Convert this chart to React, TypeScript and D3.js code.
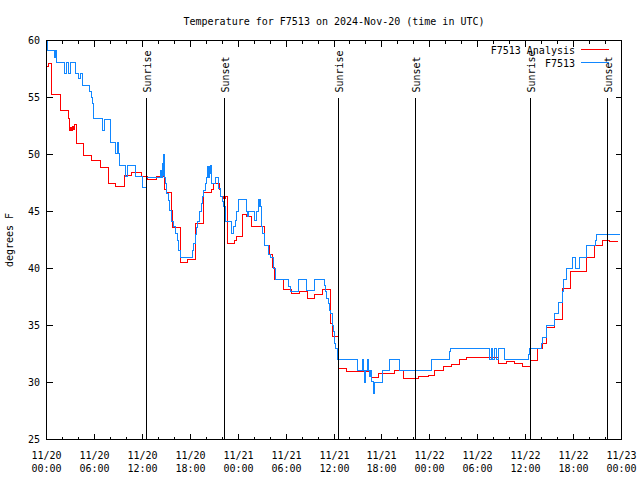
import React from "react";
import * as d3 from "d3";

const TITLE = "Temperature for F7513 on 2024-Nov-20 (time in UTC)";
const Y_LABEL = "degrees F";
const SERIES_NAMES = ["F7513 Analysis", "F7513"];
const START_UTC = Date.UTC(2024, 10, 20);
const END_HOURS = 72;
const Y_TICKS = [25, 30, 35, 40, 45, 50, 55, 60];
const SUNRISE_HOURS = [12.52, 36.54, 60.57];
const SUNSET_HOURS = [22.27, 46.18, 70.21];

// [hours since 2024-11-20 00:00 UTC, degrees F]
const analysisPoints: [number, number][] = [
  [0, 57.7], [0.3, 58.0], [0.65, 55.3], [1.7, 53.9], [2.75, 53.2], [2.85, 52.1], [3.0, 52.4], [3.1, 52.1],
  [3.25, 52.5], [3.4, 52.2], [3.5, 52.6], [3.7, 51.0], [4.62, 49.95], [5.65, 49.5], [6.75, 48.9], [7.72, 48.3],
  [7.8, 47.5], [8.6, 47.2], [9.75, 48.2], [10.7, 48.45], [11.95, 48.1], [12.6, 47.8], [13.72, 48.05], [14.8, 46.9],
  [15.05, 46.7], [15.7, 45.1], [15.83, 43.6], [16.75, 40.5], [17.7, 40.8], [18.62, 43.96], [19.67, 46.7], [20.7, 46.9],
  [20.9, 47.5], [21.6, 46.9], [21.75, 46.3], [22.2, 46.1], [22.45, 46.3], [22.68, 42.15], [23.6, 42.5], [23.85, 42.8],
  [24.6, 44.7], [25.0, 44.6], [25.7, 43.7], [27.35, 42.06], [27.9, 41.2], [28.3, 40.1], [28.6, 39.06], [29.67, 38.18],
  [30.71, 37.78], [31.67, 37.98], [32.67, 37.4], [33.62, 37.69], [34.58, 38.13], [35.58, 35.2], [35.75, 34.04], [36.6, 31.27],
  [37.6, 31.0], [40.5, 30.7], [40.7, 30.4], [41.55, 30.8], [43.62, 31.04], [44.67, 30.34], [46.62, 30.5], [47.79, 30.6],
  [48.62, 31.04], [49.67, 31.4], [50.7, 31.56], [51.67, 32.0], [52.58, 32.15], [56.54, 31.7], [57.62, 31.85], [58.62, 31.7],
  [59.62, 31.4], [60.55, 31.9], [61.54, 33.02], [62.08, 33.4], [62.58, 34.86], [63.62, 35.5], [64.56, 38.27], [65.58, 39.73],
  [67.58, 40.98], [68.56, 41.98], [69.58, 42.44], [70.5, 42.35], [71.6, 42.35],
];

const observedPoints: [number, number][] = [
  [0, 60.0], [0.15, 59.13], [1.0, 58.5], [1.1, 59.1], [1.2, 58.1], [2.3, 57.1], [2.55, 58.1], [2.8, 57.1],
  [2.95, 58.1], [3.6, 57.1], [4.05, 56.65], [4.2, 57.1], [4.5, 56.06], [5.4, 55.5], [5.6, 55.0], [5.75, 54.5],
  [5.9, 53.15], [7.05, 52.1], [7.2, 53.1], [8.0, 51.05], [8.7, 50.1], [8.85, 51.05], [9.05, 50.05], [9.2, 49.0],
  [9.9, 48.1], [10.1, 49.0], [11.1, 48.05], [11.98, 47.1], [12.5, 48.0], [14.25, 48.6], [14.35, 48.0], [14.5, 49.2],
  [14.6, 48.2], [14.7, 50.0], [14.8, 48.0], [14.85, 47.46], [15.05, 46.6], [15.25, 46.0], [15.4, 45.1], [15.6, 44.1],
  [15.85, 43.67], [16.1, 43.08], [16.35, 42.5], [16.55, 41.6], [16.75, 40.98], [18.3, 41.6], [18.45, 42.2], [18.6, 43.0],
  [18.75, 43.6], [18.95, 44.1], [19.15, 44.98], [19.35, 45.71], [19.5, 46.3], [19.65, 46.88], [19.85, 47.46], [20.0, 48.0],
  [20.2, 48.98], [20.3, 48.0], [20.4, 48.98], [20.5, 48.3], [20.55, 49.0], [20.65, 48.0], [20.7, 47.5], [21.1, 48.0],
  [21.55, 47.02], [21.8, 46.3], [22.0, 45.85], [22.2, 45.4], [22.4, 44.1], [23.2, 43.08], [23.45, 43.67], [23.65, 44.25],
  [23.85, 44.98], [24.05, 46.06], [25.0, 44.98], [25.15, 44.6], [25.3, 44.98], [26.1, 44.25], [26.3, 44.98], [26.5, 46.06],
  [26.6, 45.4], [26.7, 46.06], [26.8, 45.42], [26.95, 43.7], [27.1, 43.1], [27.3, 42.06], [27.75, 41.19], [28.0, 40.98],
  [28.4, 40.02], [28.62, 39.0], [30.3, 38.42], [30.5, 37.98], [31.54, 39.0], [32.58, 38.1], [33.62, 39.0], [34.75, 38.5],
  [34.9, 37.98], [35.1, 37.4], [35.3, 36.9], [35.45, 36.3], [35.6, 36.08], [35.75, 35.0], [35.9, 34.5], [36.1, 33.46],
  [36.25, 33.02], [36.4, 32.0], [38.92, 31.08], [39.55, 32.0], [39.65, 31.08], [39.8, 30.0], [39.95, 31.08], [40.2, 32.0],
  [40.3, 31.08], [40.5, 30.5], [40.6, 31.08], [40.7, 30.1], [41.0, 29.0], [41.1, 30.0], [42.05, 31.04], [42.92, 32.0],
  [44.25, 31.04], [48.2, 32.0], [50.5, 32.73], [50.6, 33.02], [55.5, 32.0], [55.7, 33.02], [55.9, 32.0], [56.1, 33.02],
  [56.3, 32.0], [56.55, 33.02], [57.37, 32.0], [60.3, 32.5], [60.45, 33.02], [61.96, 33.46], [62.15, 33.98], [62.67, 35.0],
  [63.55, 35.5], [63.65, 36.08], [64.17, 37.02], [64.55, 38.0], [64.7, 39.0], [65.08, 40.02], [65.83, 40.98], [66.3, 40.0],
  [66.7, 40.98], [67.58, 42.0], [68.7, 42.5], [68.83, 43.0], [71.75, 43.0],
];

const COLORS = ["#ff0000", "#1187ff"];
const FONT = "'DejaVu Sans Mono', 'Liberation Mono', monospace";

const toDate = (h: number) => new Date(START_UTC + h * 3600000);

export default function App() {
  const W = 640, H = 480;
  const L = 46.5, R = 621.5, T = 40.5, B = 439.5;
  const x = d3.scaleUtc().domain([toDate(0), toDate(END_HOURS)]).range([L, R]);
  const y = d3.scaleLinear().domain([25, 60]).range([B, T]);
  const majorTicks = x.ticks(d3.utcHour.every(6)!);
  const minorTicks = x.ticks(d3.utcHour.every(2)!);
  const fmtDate = d3.utcFormat("%m/%d");
  const fmtTime = d3.utcFormat("%H:%M");
  const line = d3
    .line<[number, number]>()
    .x((d) => x(toDate(d[0])))
    .y((d) => y(d[1]))
    .curve(d3.curveStepAfter);
  const snap = (v: number) => Math.round(v - 0.5) + 0.5;
  const events = [
    ...SUNRISE_HOURS.map((h) => ({ h, label: "Sunrise" })),
    ...SUNSET_HOURS.map((h) => ({ h, label: "Sunset" })),
  ];
  const series = [analysisPoints, observedPoints];
  return (
    <svg width={W} height={H} style={{ display: "block", position: "absolute", left: 0, top: 0, background: "#fff" }} fontFamily={FONT} fontSize={10}>
      <rect x={0} y={0} width={W} height={H} fill="#fff" />
      <text x={(L + R) / 2} y={24.5} textAnchor="middle" fill="#000">{TITLE}</text>
      <text transform={`translate(13,240) rotate(-90)`} textAnchor="middle" fill="#000">{Y_LABEL}</text>
      {/* y ticks */}
      {Y_TICKS.map((v) => {
        const yy = snap(y(v));
        return (
          <g key={"y" + v}>
            <line x1={L} x2={L + 6} y1={yy} y2={yy} stroke="#000" shapeRendering="crispEdges" />
            <line x1={R} x2={R - 6} y1={yy} y2={yy} stroke="#000" shapeRendering="crispEdges" />
            <text x={40} y={yy + 3.5} textAnchor="end" fill="#000">{v}</text>
          </g>
        );
      })}
      {/* x ticks */}
      {minorTicks.map((d, i) => {
        const xx = snap(x(d));
        return (
          <g key={"m" + i}>
            <line x1={xx} x2={xx} y1={B} y2={B - 3} stroke="#000" shapeRendering="crispEdges" />
            <line x1={xx} x2={xx} y1={T} y2={T + 3} stroke="#000" shapeRendering="crispEdges" />
          </g>
        );
      })}
      {majorTicks.map((d, i) => {
        const xx = snap(x(d));
        return (
          <g key={"M" + i}>
            <line x1={xx} x2={xx} y1={B} y2={B - 6} stroke="#000" shapeRendering="crispEdges" />
            <line x1={xx} x2={xx} y1={T} y2={T + 6} stroke="#000" shapeRendering="crispEdges" />
            <text x={xx} y={459} textAnchor="middle" fill="#000">{fmtDate(d)}</text>
            <text x={xx} y={471.5} textAnchor="middle" fill="#000">{fmtTime(d)}</text>
          </g>
        );
      })}
      {/* data */}
      {series.map((pts, i) => (
        <path key={"s" + i} d={line(pts) || ""} fill="none" stroke={COLORS[i]} strokeWidth={1} shapeRendering="crispEdges" />
      ))}
      {/* sunrise / sunset markers */}
      {events.map((e, i) => {
        const xx = snap(x(toDate(e.h)));
        return (
          <g key={"e" + i}>
            <line x1={xx} x2={xx} y1={98} y2={B} stroke="#000" shapeRendering="crispEdges" />
            <text transform={`translate(${xx + 4},92.5) rotate(-90)`} textAnchor="start" fill="#000">{e.label}</text>
          </g>
        );
      })}
      {/* border */}
      <rect x={L} y={T} width={R - L} height={B - T} fill="none" stroke="#000" shapeRendering="crispEdges" />
      {/* legend */}
      {SERIES_NAMES.map((name, i) => {
        const ly = 49.5 + i * 13;
        return (
          <g key={"l" + i}>
            <text x={575} y={ly + 4} textAnchor="end" fill="#000">{name}</text>
            <line x1={581} x2={609} y1={ly} y2={ly} stroke={COLORS[i]} shapeRendering="crispEdges" />
          </g>
        );
      })}
    </svg>
  );
}
